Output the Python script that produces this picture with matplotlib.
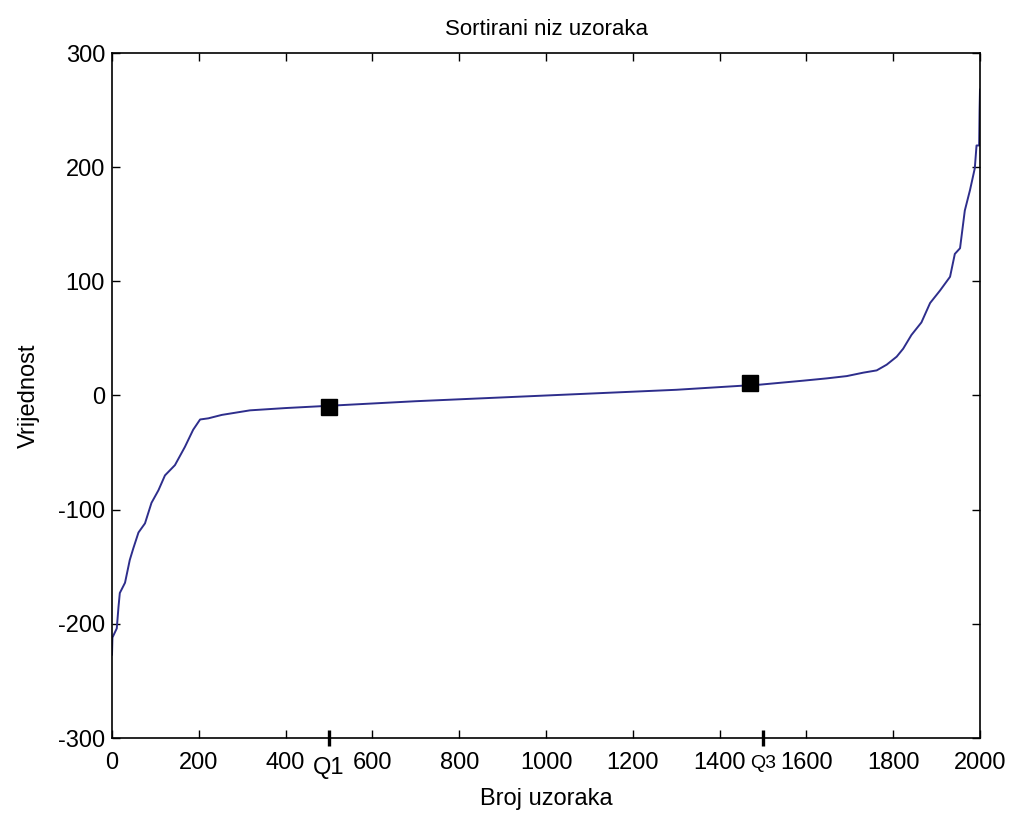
import matplotlib
matplotlib.use("Agg")
import matplotlib.pyplot as plt

# Sorted sample curve
idx = [0, 1, 11, 15, 18, 30, 41, 49, 61, 76, 91, 107, 122, 145, 168, 187, 203,
       222, 253, 318, 400, 500, 700, 1000, 1300, 1470, 1493, 1593, 1647, 1693,
       1731, 1762, 1785, 1808, 1823, 1842, 1865, 1885, 1908, 1931, 1942, 1954,
       1965, 1977, 1988, 1992, 1998, 1999, 2000]
vals = [-227, -212, -204, -185, -173, -164, -144, -134, -120, -112, -94, -83,
        -70, -61, -45, -30, -21, -20, -17, -13, -11, -9, -5, 0, 5, 9, 9.5, 13,
        15, 17, 20, 22, 27, 34, 41, 53, 64, 81, 92, 104, 124, 129, 162, 180,
        199, 219, 219, 250, 268]

quart_x = [500, 1470]
quart_y = [-10, 11]

xticks = [0, 200, 400, 600, 800, 1000, 1200, 1400, 1600, 1800, 2000]
qticks = [500, 1500]
qlabels = ["Q1", "Q3"]
yticks = [-300, -200, -100, 0, 100, 200, 300]

plt.rcParams['font.family'] = ['Liberation Sans', 'DejaVu Sans']
plt.rcParams['axes.unicode_minus'] = False

fig = plt.figure(figsize=(10.13, 8.13), dpi=100)
ax = fig.add_axes([112/1013, 75/813, (980-112)/1013, (738-53)/813])

ax.plot(idx, vals, color='#2e2e8c', linewidth=1.4)
ax.plot(quart_x, quart_y, linestyle='none', marker='s', markersize=11,
        color='black')

ax.set_xlim(0, 2000)
ax.set_ylim(-300, 300)
ax.set_xticks(xticks)
ax.set_xticklabels([str(t) for t in xticks])
ax.set_yticks(yticks)
ax.set_yticklabels([str(t) for t in yticks])
ax.set_xticks(qticks, minor=True)
ax.set_xticklabels(qlabels, minor=True)

ax.tick_params(which='major', direction='in', length=6, width=1,
               top=True, right=True, labelsize=17)
ax.tick_params(axis='x', which='major', pad=10)
ax.tick_params(axis='y', which='major', pad=5)
ax.tick_params(axis='x', which='minor', direction='inout', length=11,
               width=2.4, top=False, labelsize=17, pad=8)
minor = ax.xaxis.get_minor_ticks()
minor[1].label1.set_fontsize(14)
minor[1].set_pad(7)

for s in ax.spines.values():
    s.set_linewidth(1.2)

ax.set_title("Sortirani niz uzoraka", fontsize=16, pad=13)
ax.set_xlabel("Broj uzoraka", fontsize=17, labelpad=7)
ax.set_ylabel("Vrijednost", fontsize=17, labelpad=13)

fig.savefig("out.png", dpi=100)
